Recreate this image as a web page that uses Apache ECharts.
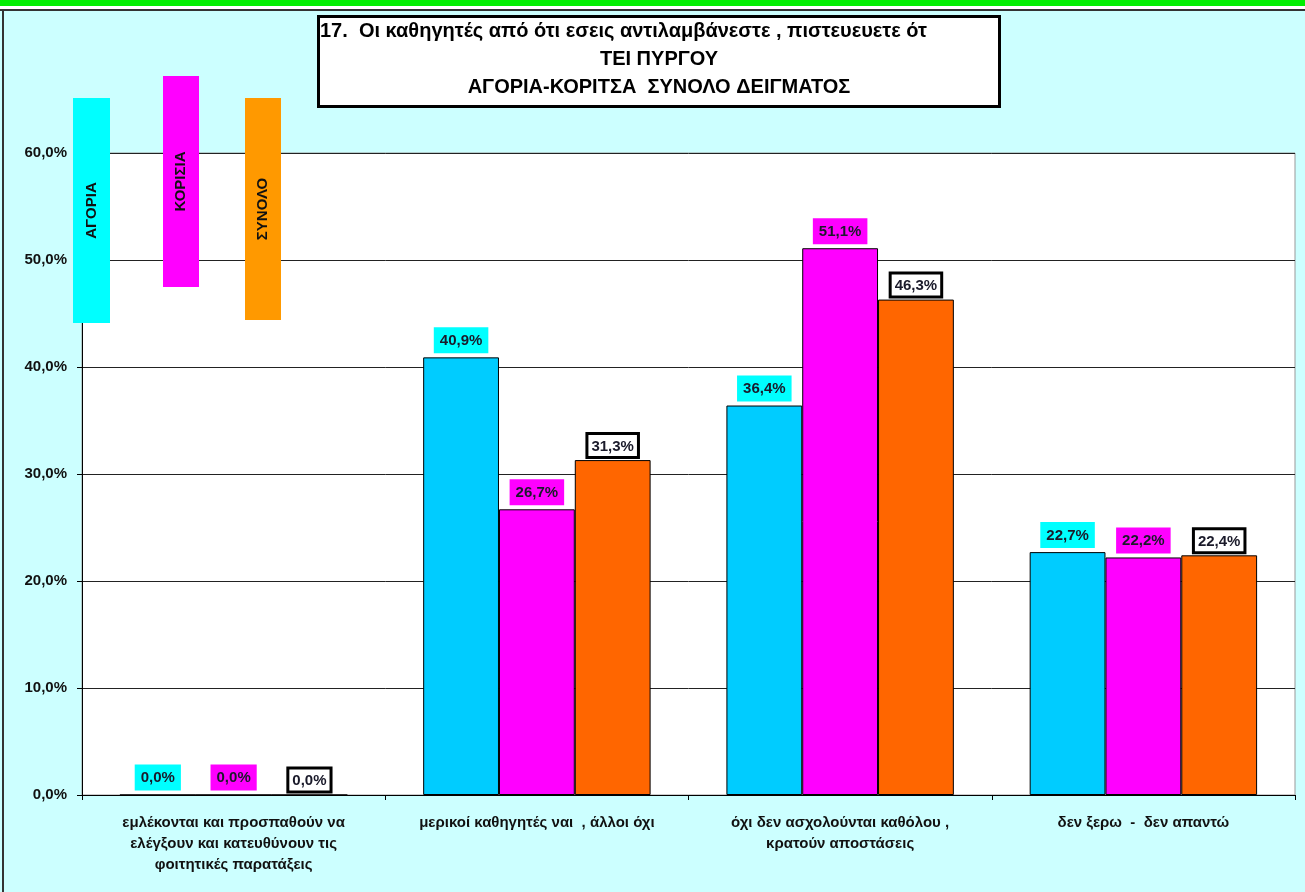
<!DOCTYPE html>
<html>
<head>
<meta charset="utf-8">
<script src="https://cdn.jsdelivr.net/npm/echarts@6/dist/echarts.min.js"></script>
<style>
html,body{margin:0;padding:0;background:#CCFFFF;}
#main{width:1305px;height:892px;}
</style>
</head>
<body>
<div id="main"></div>
<script>
// ---- data ----
var categories = [
  'εμλέκονται και προσπαθούν να\nελέγξουν και κατευθύνουν τις\nφοιτητικές παρατάξεις',
  'μερικοί καθηγητές ναι  , άλλοι όχι',
  'όχι δεν ασχολούνται καθόλου ,\nκρατούν αποστάσεις',
  'δεν ξερω  -  δεν απαντώ'
];
var seriesNames = ['ΑΓΟΡΙΑ', 'ΚΟΡΙΣΙΑ', 'ΣΥΝΟΛΟ'];
var boys  = [0.0, 40.9, 36.4, 22.7];
var girls = [0.0, 26.7, 51.1, 22.2];
var total = [0.0, 31.3, 46.3, 22.4];
var titleLines = [
  '17.  Οι καθηγητές από ότι εσεις αντιλαμβάνεστε , πιστευευετε ότ',
  'ΤΕΙ ΠΥΡΓΟΥ',
  'ΑΓΟΡΙΑ-ΚΟΡΙΤΣΑ  ΣΥΝΟΛΟ ΔΕΙΓΜΑΤΟΣ'
];

function pct(v){ return v.toFixed(1).replace('.', ',') + '%'; }

var FONT = '"Liberation Sans", Arial, sans-serif';

function labelCfg(bg, border){
  return {
    show: true, position: 'top', distance: 4,
    formatter: function(p){ return pct(p.value); },
    fontFamily: FONT, fontWeight: 'bold', fontSize: 15, color: '#1a1a2a',
    backgroundColor: bg, borderColor: border ? '#000' : 'transparent', borderWidth: border ? 3 : 0,
    padding: border ? [4, 3, 2, 3] : [6, 6, 5, 6]
  };
}

var chart = echarts.init(document.getElementById('main'));

var legendBoxes = [
  {x: 73, y: 98, w: 37, h: 225, color: '#00FFFF', name: seriesNames[0]},
  {x: 163, y: 76, w: 36, h: 211, color: '#FF00FF', name: seriesNames[1]},
  {x: 245, y: 98, w: 36, h: 222, color: '#FF9900', name: seriesNames[2]}
];
var graphics = [
  {type: 'rect', left: 0, top: 0, z: 100, shape: {width: 1305, height: 6}, style: {fill: '#00EE00'}, silent: true},
  {type: 'rect', left: 0, top: 6, z: 100, shape: {width: 1305, height: 3}, style: {fill: '#fff'}, silent: true},
  {type: 'rect', left: 0, top: 9, z: 100, shape: {width: 1305, height: 2}, style: {fill: '#333'}, silent: true},
  {type: 'rect', left: 2, top: 10, z: 100, shape: {width: 2, height: 882}, style: {fill: '#333'}, silent: true}
];
legendBoxes.forEach(function(b){
  graphics.push({type: 'rect', left: b.x, top: b.y, z: 100, shape: {width: b.w, height: b.h}, style: {fill: b.color}, silent: true});
  graphics.push({type: 'text', x: b.x + b.w / 2, y: b.y + b.h / 2, z: 101, rotation: Math.PI / 2,
    style: {text: b.name, fill: '#111', font: 'bold 15px ' + FONT, align: 'center', verticalAlign: 'middle'}, silent: true});
});

chart.setOption({
  backgroundColor: '#CCFFFF',
  animation: false,
  title: {
    text: '{a|' + titleLines[0] + '}\n{b|' + titleLines[1] + '}\n{b|' + titleLines[2] + '}',
    left: 318, top: 12,
    backgroundColor: '#fff', borderColor: '#000', borderWidth: 3,
    padding: [5, 2, 10, 2],
    textStyle: {
      rich: {
        a: {width: 678, align: 'left', fontSize: 20, lineHeight: 28, fontFamily: FONT, color: '#000'},
        b: {width: 678, align: 'center', fontSize: 20, lineHeight: 28, fontFamily: FONT, color: '#000'}
      }
    }
  },
  graphic: graphics,
  grid: {left: 82, right: 10, top: 153, bottom: 97, show: true, backgroundColor: '#fff', borderColor: '#999', borderWidth: 1},
  xAxis: {
    type: 'category', data: categories,
    axisLine: {lineStyle: {color: '#000', width: 1}},
    axisTick: {show: true, length: 5, lineStyle: {color: '#000'}},
    axisLabel: {interval: 0, margin: 17, fontFamily: FONT, fontWeight: 'bold', fontSize: 15, lineHeight: 21, color: '#111'}
  },
  yAxis: {
    type: 'value', min: 0, max: 60, interval: 10,
    axisLine: {show: true, lineStyle: {color: '#000'}},
    axisTick: {show: true, length: 5, lineStyle: {color: '#000'}},
    splitLine: {lineStyle: {color: '#222', width: 1}},
    axisLabel: {formatter: function(v){ return pct(v); }, margin: 15, fontFamily: FONT, fontWeight: 'bold', fontSize: 15, color: '#111'}
  },
  series: [
    {name: seriesNames[0], type: 'bar', data: boys, barGap: '0%', barCategoryGap: '25%',
     itemStyle: {color: '#00CCFF', borderColor: '#000', borderWidth: 1}, label: labelCfg('#00FFFF', false)},
    {name: seriesNames[1], type: 'bar', data: girls, barGap: '0%', barCategoryGap: '25%',
     itemStyle: {color: '#FF00FF', borderColor: '#000', borderWidth: 1}, label: labelCfg('#FF00FF', false)},
    {name: seriesNames[2], type: 'bar', data: total, barGap: '0%', barCategoryGap: '25%',
     itemStyle: {color: '#FF6600', borderColor: '#000', borderWidth: 1}, label: labelCfg('#FFFFFF', true)}
  ]
});
</script>
</body>
</html>
